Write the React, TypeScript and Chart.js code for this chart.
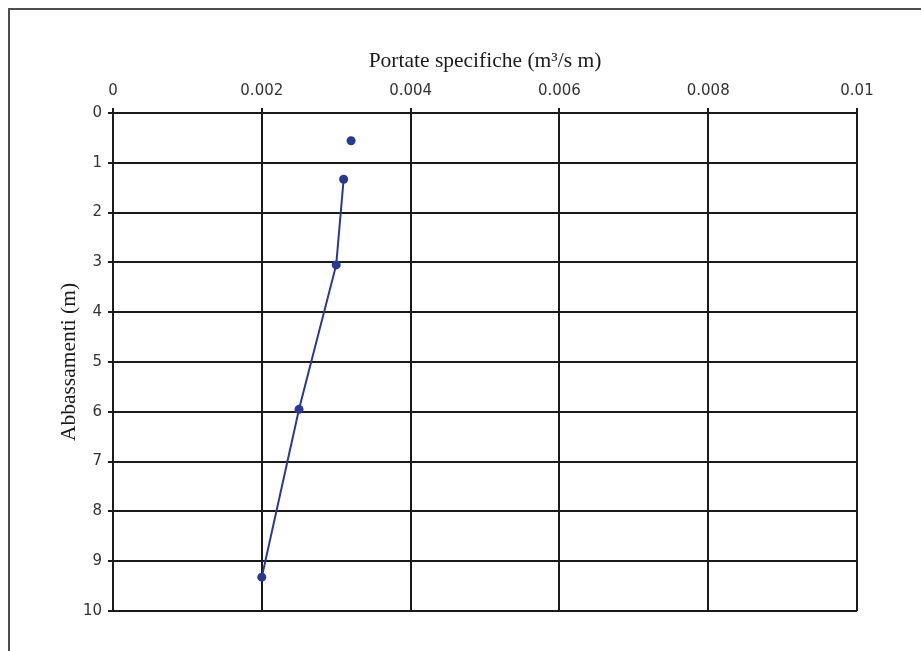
import React, { useEffect, useRef } from "react";
import { Chart, registerables } from "chart.js";

Chart.register(...registerables);

// Specific discharge (m³/s m) against drawdown (m)
const isolatedFlow = [0.0032];
const isolatedDrawdown = [0.557];
const flowRate = [0.0031, 0.003, 0.0025, 0.002];
const drawdown = [1.33, 3.05, 5.95, 9.32];

const xTickLabels = ["0", "0.002", "0.004", "0.006", "0.008", "0.01"];
const yTickLabels = ["0", "1", "2", "3", "4", "5", "6", "7", "8", "9", "10"];

const xTitle = "Portate specifiche (m³/s m)";
const yTitle = "Abbassamenti (m)";

const MARK = "#2a3990";
const GRID = "#1a1a1a";
const serif = '"Liberation Serif", "Times New Roman", serif';
const sans = '"DejaVu Sans", Verdana, sans-serif';

export default function App() {
  const ref = useRef<HTMLCanvasElement | null>(null);

  useEffect(() => {
    if (!ref.current) return;
    const chart = new Chart(ref.current, {
      type: "scatter",
      data: {
        datasets: [
          {
            data: isolatedFlow.map((x, i) => ({ x, y: isolatedDrawdown[i] })),
            showLine: false,
            pointRadius: 4.5,
            pointBorderWidth: 0,
            backgroundColor: MARK,
            borderColor: MARK,
          },
          {
            data: flowRate.map((x, i) => ({ x, y: drawdown[i] })),
            showLine: true,
            borderWidth: 2,
            pointRadius: 4.5,
            pointBorderWidth: 0,
            backgroundColor: MARK,
            borderColor: MARK,
          },
        ],
      },
      options: {
        responsive: false,
        animation: false,
        devicePixelRatio: 1,
        layout: { padding: { left: 0, top: 0, right: 64, bottom: 40 } },
        plugins: { legend: { display: false }, tooltip: { enabled: false } },
        scales: {
          x: {
            type: "linear",
            position: "top",
            min: 0,
            max: 0.01,
            afterBuildTicks: (s: any) => {
              s.ticks = xTickLabels.map((_, i) => ({ value: i * 0.002 }));
            },
            afterFit: (s: any) => {
              s.height = 113;
            },
            ticks: {
              padding: 8,
              color: "#333",
              font: { family: sans, size: 15 },
              callback: (_v: any, i: number) => xTickLabels[i],
              maxRotation: 0,
            },
            grid: { color: GRID, lineWidth: 2, tickLength: 5 },
            border: { color: GRID, width: 2 },
            title: {
              display: true,
              text: xTitle,
              color: "#1a1a1a",
              font: { family: serif, size: 21.5 },
              padding: { top: 48, bottom: 0 },
            },
          },
          y: {
            type: "linear",
            reverse: true,
            min: 0,
            max: 10,
            afterBuildTicks: (s: any) => {
              s.ticks = yTickLabels.map((_, i) => ({ value: i }));
            },
            afterFit: (s: any) => {
              s.width = 113;
            },
            ticks: {
              padding: 6,
              color: "#333",
              font: { family: sans, size: 15 },
              callback: (_v: any, i: number) => yTickLabels[i],
            },
            grid: { color: GRID, lineWidth: 2, tickLength: 5 },
            border: { color: GRID, width: 2 },
            title: {
              display: true,
              text: yTitle,
              color: "#1a1a1a",
              font: { family: serif, size: 21.5 },
              padding: { top: 56, bottom: 0 },
            },
          },
        },
      },
    });
    return () => chart.destroy();
  }, []);

  return (
    <>
      <div
        style={{
          position: "fixed",
          left: 8,
          top: 8,
          width: 2000,
          height: 2000,
          borderLeft: "2px solid #4d4d4d",
          borderTop: "2px solid #4d4d4d",
        }}
      />
      <canvas
        ref={ref}
        width={921}
        height={651}
        style={{ position: "fixed", left: 0, top: 0, width: 921, height: 651 }}
      />
    </>
  );
}
